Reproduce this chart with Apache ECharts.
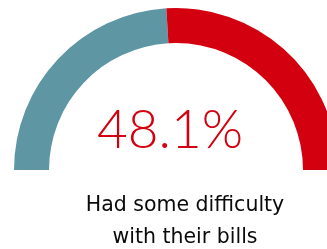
<!DOCTYPE html>
<html>
<head>
<meta charset="utf-8" />
<title></title>
<script type="text/javascript" src="https://cdn.jsdelivr.net/npm/echarts@6/dist/echarts.min.js"></script>
<style>
	html, body { margin: 0; padding: 0; background: #fff; }
</style>
</head>
<body>
<div id="main" style="width: 327px;height:249px;"></div>
<script>
	var names = ['Had some difficulty', 'Other'];
	var values = [48.1, 51.9];
	var colors = ['#5e96a4', '#d3000f'];
	var bigLabel = '48.1%';
	var caption = 'Had some difficulty\nwith their bills';

	var myChart = echarts.init(document.getElementById('main'));
	var option = {
		animation: false,
		title: [{
			text: bigLabel,
			left: 165,
			top: 99,
			textAlign: 'center',
			textStyle: {
				color: '#d3000f',
				fontFamily: 'Lato',
				fontWeight: 300,
				fontSize: 53
			}
		}, {
			text: caption,
			left: 180,
			top: 185,
			textAlign: 'center',
			textStyle: {
				color: '#0a0a0a',
				fontFamily: 'DejaVu Sans',
				fontWeight: 'normal',
				fontSize: 20.5,
				lineHeight: 32
			}
		}],
		series: [{
			type: 'pie',
			center: [176, 170],
			radius: [127, 162],
			startAngle: 180,
			endAngle: 0,
			clockwise: true,
			silent: true,
			label: { show: false },
			labelLine: { show: false },
			itemStyle: { borderWidth: 0 },
			data: values.map(function (v, i) {
				return { name: names[i], value: v, itemStyle: { color: colors[i] } };
			})
		}]
	};
	myChart.setOption(option);
</script>
</body>
</html>
